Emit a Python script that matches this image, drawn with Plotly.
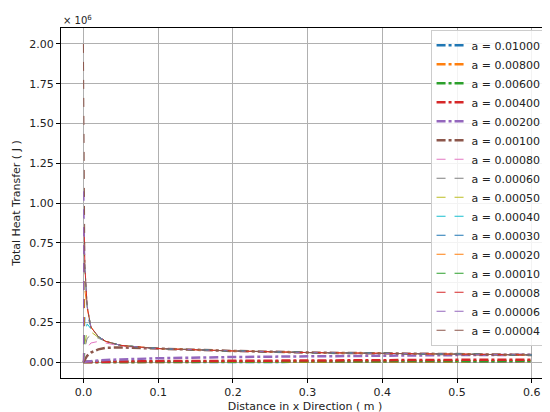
import plotly.graph_objects as go

# distance along x (m)
x_m = [0, 0.0005, 0.001, 0.002, 0.005, 0.01, 0.02, 0.03, 0.05, 0.1, 0.2, 0.3, 0.4, 0.5, 0.6]

# heat transfer values in units of 1e6 J, one list per "a"
a_labels = ["0.01000", "0.00800", "0.00600", "0.00400", "0.00200", "0.00100",
            "0.00080", "0.00060", "0.00050", "0.00040", "0.00030", "0.00020",
            "0.00010", "0.00008", "0.00006", "0.00004"]
q_a01000 = [0, 0, 0, 0, 0, 0, 0.0002, 0.0004, 0.0006, 0.001, 0.0015, 0.002, 0.0025, 0.0028, 0.003]
q_a00800 = [0, 0, 0, 0, 0, 0, 0.0003, 0.0005, 0.0008, 0.0014, 0.0022, 0.003, 0.0038, 0.0044, 0.005]
q_a00600 = [0, 0, 0, 0, 0, 0.0002, 0.0005, 0.0008, 0.0012, 0.0022, 0.0036, 0.005, 0.0062, 0.0072, 0.008]
q_a00400 = [0, 0, 0, 0, 0.0005, 0.001, 0.002, 0.003, 0.004, 0.006, 0.009, 0.011, 0.013, 0.014, 0.015]
q_a00200 = [0, 0, 0, 0.001, 0.003, 0.006, 0.01, 0.013, 0.017, 0.024, 0.032, 0.037, 0.041, 0.044, 0.046]
q_a00100 = [0, 0.005, 0.01, 0.02, 0.04, 0.06, 0.08, 0.09, 0.092, 0.085, 0.07, 0.06, 0.055, 0.05, 0.045]
q_a00080 = [0, 0.015, 0.03, 0.05, 0.09, 0.12, 0.13, 0.12, 0.10, 0.085, 0.07, 0.06, 0.055, 0.05, 0.045]
q_a00060 = [0, 0.03, 0.05, 0.09, 0.15, 0.17, 0.15, 0.13, 0.105, 0.085, 0.07, 0.06, 0.055, 0.05, 0.045]
q_a00050 = [0, 0.04, 0.08, 0.12, 0.19, 0.19, 0.155, 0.13, 0.105, 0.085, 0.07, 0.06, 0.055, 0.05, 0.045]
q_a00040 = [0, 0.06, 0.12, 0.18, 0.24, 0.21, 0.16, 0.13, 0.105, 0.085, 0.07, 0.06, 0.055, 0.05, 0.045]
q_a00030 = [0, 0.1, 0.2, 0.28, 0.30, 0.22, 0.16, 0.13, 0.105, 0.085, 0.07, 0.06, 0.055, 0.05, 0.045]
q_a00020 = [0, 0.2, 0.35, 0.45, 0.34, 0.22, 0.16, 0.13, 0.105, 0.085, 0.07, 0.06, 0.055, 0.05, 0.045]
q_a00010 = [0, 0.5, 0.7, 0.58, 0.35, 0.22, 0.16, 0.13, 0.105, 0.085, 0.07, 0.06, 0.055, 0.05, 0.045]
q_a00008 = [0, 0.8, 0.85, 0.6, 0.35, 0.22, 0.16, 0.13, 0.105, 0.085, 0.07, 0.06, 0.055, 0.05, 0.045]
q_a00006 = [0, 1.1, 0.9, 0.6, 0.35, 0.22, 0.16, 0.13, 0.105, 0.085, 0.07, 0.06, 0.055, 0.05, 0.045]
q_a00004 = [2.0, 1.3, 0.9, 0.6, 0.35, 0.22, 0.16, 0.13, 0.105, 0.085, 0.07, 0.06, 0.055, 0.05, 0.045]

series = [q_a01000, q_a00800, q_a00600, q_a00400, q_a00200, q_a00100,
          q_a00080, q_a00060, q_a00050, q_a00040, q_a00030, q_a00020,
          q_a00010, q_a00008, q_a00006, q_a00004]

tab10 = ["#1f77b4", "#ff7f0e", "#2ca02c", "#d62728", "#9467bd",
         "#8c564b", "#e377c2", "#7f7f7f", "#bcbd22", "#17becf"]

fig = go.Figure()
for i, (lab, ys) in enumerate(zip(a_labels, series)):
    thick = i < 6
    fig.add_trace(go.Scatter(
        x=x_m, y=ys, mode="lines", name=f"a = {lab}",
        line=dict(color=tab10[i % 10], width=2.5 if thick else 1,
                  dash="dashdot" if thick else "dash"),
    ))

axis_common = dict(showgrid=True, gridcolor="#b0b0b0", gridwidth=1, zeroline=False,
                   showline=True, linecolor="black", linewidth=1, mirror=True,
                   ticks="outside", ticklen=4, tickcolor="black")
fig.update_xaxes(range=[-0.03, 0.623], dtick=0.1, tickformat=".1f",
                 title=dict(text="Distance in x Direction ( m )", standoff=4,
                            font=dict(size=11)), **axis_common)
fig.update_yaxes(range=[-0.1, 2.1], tickvals=[0, 0.25, 0.5, 0.75, 1.0, 1.25, 1.5, 1.75, 2.0],
                 tickformat=".2f",
                 title=dict(text="Total Heat Transfer ( J )", standoff=6, font=dict(size=11)),
                 **axis_common)

fig.add_annotation(text="× 10<sup>6</sup>", xref="paper", yref="paper", x=0, y=1.0,
                   xanchor="left", yanchor="bottom", showarrow=False, font=dict(size=10))

fig.update_layout(
    width=550, height=412,
    template="plotly_white",
    plot_bgcolor="white",
    font=dict(family="DejaVu Sans", size=11, color="#222"),
    margin=dict(l=52, r=8, t=20, b=42),
    showlegend=True,
    legend=dict(x=0.995, y=0.995, xanchor="right", yanchor="top",
                bgcolor="rgba(255,255,255,0.85)", bordercolor="#cccccc", borderwidth=1,
                font=dict(size=11), tracegroupgap=0, itemwidth=30),
)

fig.write_html("out.html")
